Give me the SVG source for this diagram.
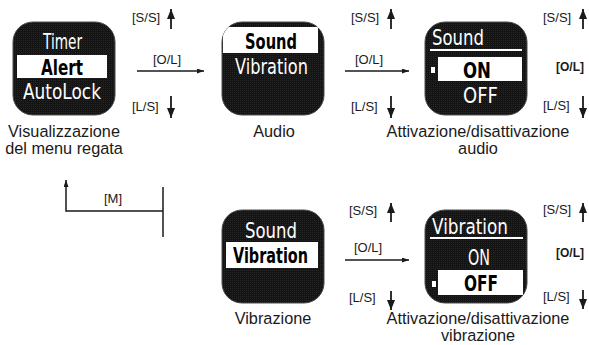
<svg xmlns="http://www.w3.org/2000/svg" width="589" height="345" viewBox="0 0 589 345">
<style>
.lbl{font-family:"Liberation Sans",Arial,sans-serif;font-size:16.3px;fill:#1a1a1a;text-anchor:middle}
.key{font-family:"Liberation Sans",Arial,sans-serif;font-size:13px;fill:#1a1a1a}
.keyb{font-family:"Liberation Sans",Arial,sans-serif;font-size:12px;font-weight:bold;fill:#1a1a1a}
.lcd{font-family:"DejaVu Sans",sans-serif;font-size:21px;fill:#fff}
.lcdb{font-family:"DejaVu Sans",sans-serif;font-size:21.5px;font-weight:bold;fill:#000}
.scr{fill:url(#dots);stroke:#4a4a4a;stroke-width:1}
.band{fill:#fff}
.ln{fill:none;stroke:#1a1a1a;stroke-width:1.5}
.lnv{fill:none;stroke:#1a1a1a;stroke-width:1.8}
</style>
<defs>
<pattern id="dots" width="2" height="2" patternUnits="userSpaceOnUse">
<rect width="2" height="2" fill="#141414"/>
<rect width="1" height="1" fill="#262626"/>
</pattern>
<clipPath id="clip" clipPathUnits="userSpaceOnUse">
<rect x="0" y="0" width="102" height="93" rx="20" ry="20"/>
</clipPath>
<marker id="ah" markerUnits="userSpaceOnUse" markerWidth="10" markerHeight="8" refX="10" refY="4" orient="auto">
<path d="M0,0 L10,4 L0,8 z" fill="#1a1a1a"/>
</marker>
<marker id="ahs" markerUnits="userSpaceOnUse" markerWidth="7" markerHeight="5" refX="7" refY="2.5" orient="auto">
<path d="M0,0 L7,2.5 L0,5 z" fill="#1a1a1a"/>
</marker>
</defs>
<rect width="589" height="345" fill="#fff"/>

<g id="screen-menu" transform="translate(13,22)">
<rect class="scr" x="0" y="0" width="102" height="93" rx="20"/>
<g clip-path="url(#clip)">
<rect class="band" x="4" y="33" width="90" height="23"/>
<text class="lcd" x="30" y="27" textLength="39" lengthAdjust="spacingAndGlyphs">Timer</text>
<text class="lcdb" x="28" y="53" textLength="42" lengthAdjust="spacingAndGlyphs">Alert</text>
<text class="lcd" x="10" y="77" textLength="78" lengthAdjust="spacingAndGlyphs">AutoLock</text>
</g>
<text class="lbl" x="51" y="115">Visualizzazione</text>
<text class="lbl" x="51" y="132">del menu regata</text>
</g>

<g id="screen-audio" transform="translate(222,22)">
<rect class="scr" x="0" y="0" width="102" height="93" rx="20"/>
<g clip-path="url(#clip)">
<rect class="band" x="1" y="5" width="95" height="26"/>
<text class="lcdb" x="23" y="27" textLength="52" lengthAdjust="spacingAndGlyphs">Sound</text>
<text class="lcd" x="13" y="52" textLength="73" lengthAdjust="spacingAndGlyphs">Vibration</text>
</g>
<text class="lbl" x="52" y="115">Audio</text>
</g>

<g id="screen-audio-onoff" transform="translate(425,22)">
<rect class="scr" x="0" y="0" width="102" height="93" rx="20"/>
<g clip-path="url(#clip)">
<text class="lcd" x="7" y="23" textLength="52" lengthAdjust="spacingAndGlyphs">Sound</text>
<rect x="5" y="27" width="92" height="2" fill="#fff"/>
<rect class="band" x="13" y="35" width="84" height="24"/>
<rect x="6" y="45" width="4" height="6" fill="#fff"/>
<text class="lcdb" x="38" y="56" textLength="28" lengthAdjust="spacingAndGlyphs">ON</text>
<text class="lcd" x="38" y="81" textLength="35" lengthAdjust="spacingAndGlyphs">OFF</text>
</g>
<text class="lbl" x="53" y="115">Attivazione/disattivazione</text>
<text class="lbl" x="53" y="132">audio</text>
</g>

<g id="screen-vibration" transform="translate(222,210)">
<rect class="scr" x="0" y="0" width="102" height="93" rx="20"/>
<g clip-path="url(#clip)">
<rect class="band" x="4" y="32" width="92" height="26"/>
<text class="lcd" x="23" y="28" textLength="52" lengthAdjust="spacingAndGlyphs">Sound</text>
<text class="lcdb" x="11" y="53" textLength="75" lengthAdjust="spacingAndGlyphs">Vibration</text>
</g>
<text class="lbl" x="51" y="114">Vibrazione</text>
</g>

<g id="screen-vibration-onoff" transform="translate(425,210)">
<rect class="scr" x="0" y="0" width="102" height="93" rx="20"/>
<g clip-path="url(#clip)">
<text class="lcd" x="7" y="24" textLength="76" lengthAdjust="spacingAndGlyphs">Vibration</text>
<rect x="5" y="27" width="93" height="2" fill="#fff"/>
<text class="lcd" x="43" y="55" textLength="22" lengthAdjust="spacingAndGlyphs">ON</text>
<rect class="band" x="13" y="60" width="85" height="25"/>
<rect x="7" y="71" width="4" height="6" fill="#fff"/>
<text class="lcdb" x="39" y="81" textLength="34" lengthAdjust="spacingAndGlyphs">OFF</text>
</g>
<text class="lbl" x="53" y="114">Attivazione/disattivazione</text>
<text class="lbl" x="53" y="131">vibrazione</text>
</g>

<g id="connectors">
<line class="lnv" x1="171" y1="29" x2="171" y2="9" marker-end="url(#ah)"/>
<line class="lnv" x1="171" y1="96" x2="171" y2="118" marker-end="url(#ah)"/>
<line class="ln" x1="137" y1="71" x2="204" y2="71" marker-end="url(#ahs)"/>
<line class="lnv" x1="391" y1="29" x2="391" y2="9" marker-end="url(#ah)"/>
<line class="lnv" x1="391" y1="96" x2="391" y2="118" marker-end="url(#ah)"/>
<line class="ln" x1="345" y1="71" x2="409" y2="71" marker-end="url(#ahs)"/>
<line class="lnv" x1="583" y1="29" x2="583" y2="9" marker-end="url(#ah)"/>
<line class="lnv" x1="583" y1="96" x2="583" y2="118" marker-end="url(#ah)"/>
<line class="lnv" x1="391" y1="222" x2="391" y2="203" marker-end="url(#ah)"/>
<line class="lnv" x1="391" y1="291" x2="391" y2="310" marker-end="url(#ah)"/>
<line class="ln" x1="345" y1="260" x2="409" y2="260" marker-end="url(#ahs)"/>
<line class="lnv" x1="583" y1="222" x2="583" y2="203" marker-end="url(#ah)"/>
<line class="lnv" x1="583" y1="290" x2="583" y2="309" marker-end="url(#ah)"/>
<polyline class="ln" points="163,211 66,211 66,180" marker-end="url(#ahs)"/>
<line class="ln" x1="163" y1="187" x2="163" y2="237"/>
<text class="key" x="132" y="22">[S/S]</text>
<text class="key" x="153" y="64">[O/L]</text>
<text class="key" x="132" y="111">[L/S]</text>
<text class="key" x="351" y="22">[S/S]</text>
<text class="key" x="355" y="64">[O/L]</text>
<text class="key" x="351" y="111">[L/S]</text>
<text class="key" x="543" y="22">[S/S]</text>
<text class="keyb" x="556" y="71">[O/L]</text>
<text class="key" x="543" y="110">[L/S]</text>
<text class="key" x="349" y="215">[S/S]</text>
<text class="key" x="354" y="252">[O/L]</text>
<text class="key" x="349" y="302">[L/S]</text>
<text class="key" x="543" y="214">[S/S]</text>
<text class="keyb" x="556" y="257">[O/L]</text>
<text class="key" x="543" y="301">[L/S]</text>
<text class="key" x="104" y="203">[M]</text>
</g>
</svg>
